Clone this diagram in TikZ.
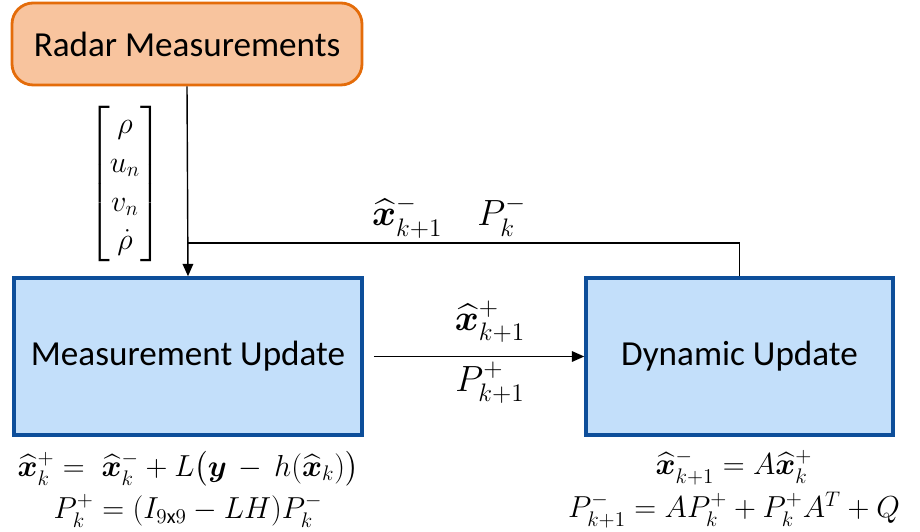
\documentclass[tikz,border=0pt]{standalone}
\usepackage{amsmath,amssymb,bm}
\usepackage{fontspec}
\setmainfont{Carlito}
\usetikzlibrary{arrows.meta}

\definecolor{radarfill}{HTML}{F8C49E}
\definecolor{radarline}{HTML}{E46C0A}
\definecolor{updfill}{HTML}{C3DFFA}
\definecolor{updline}{HTML}{0D4E9A}

\newcommand{\xh}{\widehat{\bm{x}}}

\begin{document}
\begin{tikzpicture}[
        big/.style={font=\fontsize{20}{24}\selectfont},
        eqs/.style={font=\fontsize{16.5}{19}\selectfont,inner sep=1pt},
        radar/.style={big,draw=radarline,fill=radarfill,line width=1.6pt,
            rounded corners=12pt,minimum width=7cm,minimum height=1.64cm},
        upd/.style={big,draw=updline,fill=updfill,line width=2pt,
            minimum width=#1,minimum height=3.14cm},
        lbl/.style={big,inner sep=1pt},
        conn/.style={line width=0.8pt,-{Triangle[length=7pt,width=6pt]}}]
\useasboundingbox (0,0) rectangle (18.4,10.62);

\node[radar] (radar) at (3.74,9.74) {Radar Measurements};
\node[upd=6.96cm] (meas) at (3.76,3.49) {Measurement Update};
\node[upd=6.14cm] (dyn) at (14.79,3.49) {Dynamic Update};

% measurement vector and feedback labels
\node[lbl,font=\fontsize{18.5}{22}\selectfont] (zvec) at (2.5,6.94)
    {$\begin{bmatrix}\rho\\ u_n\\ v_n\\ \dot{\rho}\end{bmatrix}$};
\node[lbl] (prior) at (8.98,6.28) {$\xh^-_{k+1}\quad P^-_k$};
\node[lbl] (xpost) at (9.8,4.18) {$\xh^+_{k+1}$};
\node[lbl] (ppost) at (9.8,2.96) {$P^+_{k+1}$};

\coordinate (join) at (3.76,5.76);
\draw[conn] (radar.south) -- (meas.north);
\draw[line width=0.8pt] (dyn.north) |- (join);
\draw[conn,shorten <=0.2cm] (meas.east) -- (dyn.west);

% update equations
\node[eqs,align=center] (measeq) at (3.76,0.84)
    {$\xh^+_k =\; \xh^-_k + L\big(\bm{y} \,-\, h(\xh_k)\big)$\\[3pt]
     $P^+_k = (I_{9\mathrm{x}9} - LH)P^-_k$};
\node[eqs,align=center] (dyneq) at (14.68,0.84)
    {$\xh^-_{k+1} = A\xh^+_k$\\[3pt]
     $P^-_{k+1} = AP^+_k + P^+_k A^T + Q$};
\end{tikzpicture}
\end{document}
